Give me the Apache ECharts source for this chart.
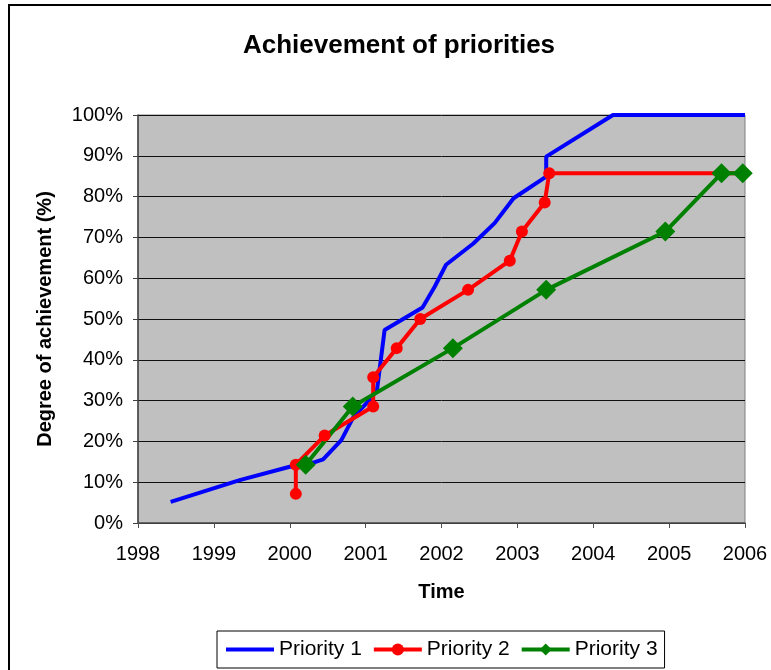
<!DOCTYPE html>
<html>
<head>
<meta charset="utf-8">
<title>Achievement of priorities</title>
<script src="https://cdn.jsdelivr.net/npm/echarts@6/dist/echarts.min.js"></script>
<style>
  html, body { margin: 0; padding: 0; background: #fff; }
  #chart { width: 771px; height: 670px; }
</style>
</head>
<body>
<div id="chart"></div>
<script>
// years (decimal) and degree of achievement (%)
var p1Time = [1998.43, 1999.34, 2000.0, 2000.33, 2000.44, 2000.68, 2000.84, 2001.01, 2001.15, 2001.25,
              2001.75, 2001.91, 2002.06, 2002.42, 2002.70, 2002.95, 2003.38, 2003.38, 2004.26, 2006.0];
var p1Value = [5.2, 10.5, 13.8, 14.9, 15.6, 20.3, 26.0, 29.3, 32.6, 47.3,
               52.8, 57.9, 63.3, 68.5, 73.5, 79.6, 84.9, 89.8, 100, 100];

var p2Time = [2000.08, 2000.08, 2000.46, 2001.10, 2001.10, 2001.41, 2001.72, 2002.35, 2002.90, 2003.06, 2003.36, 2003.42, 2005.97];
var p2Value = [7.14, 14.29, 21.43, 28.57, 35.71, 42.86, 50.0, 57.14, 64.29, 71.43, 78.57, 85.71, 85.71];

var p3Time = [2000.21, 2000.83, 2002.15, 2003.38, 2004.95, 2005.69, 2005.97];
var p3Value = [14.29, 28.57, 42.86, 57.14, 71.43, 85.71, 85.71];

var seriesNames = ['Priority 1', 'Priority 2', 'Priority 3'];

function pairs(xs, ys) {
  return xs.map(function (x, i) { return [x, ys[i]]; });
}

var font = '"Liberation Sans", Arial, sans-serif';

var chart = echarts.init(document.getElementById('chart'));
chart.setOption({
  animation: false,
  backgroundColor: '#fff',
  title: {
    text: 'Achievement of priorities',
    left: 243,
    top: 33,
    padding: 0,
    textStyle: { fontFamily: font, fontSize: 26, fontWeight: 'bold', color: '#000' }
  },
  graphic: [{
    type: 'rect',
    shape: { x: 9, y: 5, width: 800, height: 700 },
    style: { fill: null, stroke: '#000', lineWidth: 2 },
    silent: true
  }],
  grid: {
    left: 138, right: 26, top: 115, bottom: 147,
    show: true,
    backgroundColor: '#C0C0C0',
    borderColor: '#808080',
    borderWidth: 1
  },
  legend: {
    data: [
      { name: seriesNames[0], itemStyle: { opacity: 0 } },
      { name: seriesNames[1] },
      { name: seriesNames[2] }
    ],
    left: 217,
    top: 631,
    padding: [8, 7, 8, 7],
    itemGap: 10,
    itemWidth: 48,
    itemHeight: 15,
    lineStyle: { width: 4 },
    borderColor: '#000',
    borderWidth: 1,
    backgroundColor: '#fff',
    textStyle: { fontFamily: font, fontSize: 21, color: '#000' }
  },
  xAxis: {
    type: 'value',
    min: 1998,
    max: 2006,
    interval: 1,
    name: 'Time',
    nameLocation: 'middle',
    nameGap: 59,
    nameTextStyle: { fontFamily: font, fontSize: 20, fontWeight: 'bold', color: '#000' },
    axisLine: { lineStyle: { color: '#505050', width: 1.5 } },
    axisTick: { show: true, length: 5, lineStyle: { color: '#505050' } },
    axisLabel: {
      margin: 21,
      fontFamily: font, fontSize: 20, color: '#000',
      formatter: function (v) { return String(v); }
    },
    splitLine: { show: false }
  },
  yAxis: {
    type: 'value',
    min: 0,
    max: 100,
    interval: 10,
    name: 'Degree of achievement (%)',
    nameLocation: 'middle',
    nameGap: 83,
    nameTextStyle: { fontFamily: font, fontSize: 20, fontWeight: 'bold', color: '#000' },
    axisLine: { show: true, lineStyle: { color: '#404040', width: 1.5 } },
    axisTick: { show: true, length: 5, lineStyle: { color: '#404040' } },
    axisLabel: {
      margin: 15,
      fontFamily: font, fontSize: 20, color: '#000',
      formatter: '{value}%'
    },
    splitLine: { show: true, lineStyle: { color: '#101010', width: 1 } }
  },
  series: [
    {
      name: seriesNames[0],
      type: 'line',
      data: pairs(p1Time, p1Value),
      symbol: 'none',
      color: '#0000FF',
      lineStyle: { color: '#0000FF', width: 4 }
    },
    {
      name: seriesNames[1],
      type: 'line',
      data: pairs(p2Time, p2Value),
      symbol: 'circle',
      symbolSize: 12,
      color: '#FF0000',
      itemStyle: { color: '#FF0000' },
      lineStyle: { color: '#FF0000', width: 4 }
    },
    {
      name: seriesNames[2],
      type: 'line',
      data: pairs(p3Time, p3Value),
      symbol: 'diamond',
      symbolSize: 20,
      color: '#008000',
      itemStyle: { color: '#008000' },
      lineStyle: { color: '#008000', width: 4 }
    }
  ]
});
</script>
</body>
</html>
